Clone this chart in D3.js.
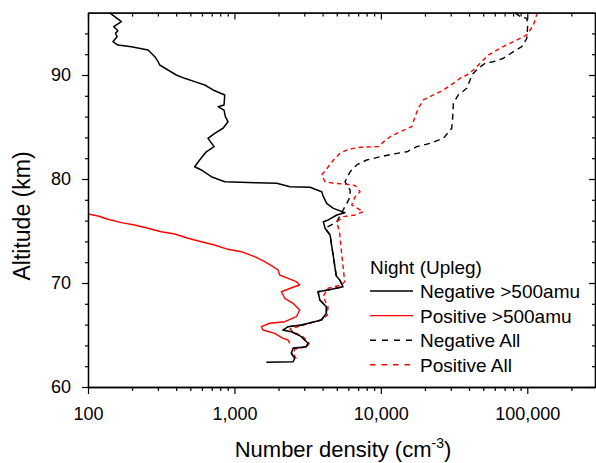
<!DOCTYPE html>
<html>
<head>
<meta charset="utf-8">
<script src="https://cdn.jsdelivr.net/npm/d3@7"></script>
<style>
  html, body { margin: 0; padding: 0; background: #fff; }
  svg { display: block; font-family: "Liberation Sans", Arial, sans-serif; }
</style>
</head>
<body>
<svg id="chart" width="596" height="463"></svg>
<script>
// Altitude profiles of charged particle number density, night upleg.
// Each entry: [altitude (km), number density (cm^-3)]
const negativeLarge = [
  [96.0, 140], [95.13, 169], [94.64, 150], [94.26, 160], [94.01, 154], [93.68, 158],
  [93.20, 148], [92.88, 160], [92.72, 198], [92.40, 257], [91.76, 286], [91.28, 301],
  [90.96, 309], [90.48, 352], [90.0, 401], [89.68, 457], [89.36, 535], [89.04, 627],
  [88.56, 714], [88.08, 859], [87.12, 849], [86.95, 773], [86.63, 849], [85.99, 867],
  [85.51, 904], [84.88, 836], [84.39, 733], [83.91, 660], [83.11, 726], [82.62, 643],
  [81.83, 579], [81.18, 535], [80.87, 594], [80.22, 695], [79.74, 859], [79.64, 1413],
  [79.59, 1945], [79.26, 2398], [79.20, 3281], [78.78, 3945], [78.30, 4047], [77.66, 4266],
  [77.18, 4742], [76.76, 5690], [76.54, 5000], [76.06, 4377], [75.89, 4047], [75.26, 4160],
  [74.62, 4498], [73.49, 4624], [72.53, 4742], [71.41, 4868], [70.67, 4966], [70.29, 5236],
  [69.64, 5521], [69.33, 4355], [69.16, 3724], [68.37, 3828], [67.72, 4246], [67.09, 4246],
  [66.44, 3926], [65.96, 2864], [65.80, 2323], [65.48, 2148], [65.32, 2449], [64.84, 2864],
  [64.20, 3184], [63.88, 3097], [63.72, 2512], [63.24, 2449], [62.76, 2582], [62.43, 2512],
  [62.38, 1652]
];

const positiveLarge = [
  [76.63, 100], [76.44, 117], [76.13, 137], [75.80, 169], [75.58, 208], [75.26, 257],
  [74.93, 316], [74.71, 391], [74.30, 482], [73.97, 594], [73.65, 733], [73.24, 904],
  [73.01, 1114], [72.53, 1376], [72.05, 1611], [71.57, 1836], [71.25, 1986], [70.77, 2037],
  [70.45, 2323], [70.13, 2649], [69.81, 2793], [69.59, 2512], [69.16, 2091], [68.53, 2208],
  [68.05, 2512], [67.40, 2793], [66.76, 2649], [66.28, 2208], [66.13, 1742], [65.80, 1528],
  [65.48, 1567], [65.16, 1884], [64.68, 2148], [64.52, 2323], [64.20, 2388]
];

const negativeAll = [
  [96.0, 82600], [95.61, 89330], [95.45, 99300], [94.81, 100700], [93.53, 99300],
  [92.72, 91650], [92.24, 80350], [91.61, 68710], [91.28, 58610], [91.13, 51520],
  [90.64, 46350], [90.0, 41780], [89.52, 40640], [88.72, 38640], [88.08, 33810],
  [87.28, 31260], [85.99, 30970], [84.88, 30480], [83.91, 26730], [83.43, 21680],
  [83.11, 17580], [82.62, 15030], [82.40, 12170], [82.14, 9886], [81.83, 8017],
  [81.35, 6839], [80.70, 6166], [79.74, 5690], [78.94, 6166], [78.30, 6166],
  [77.66, 5848], [76.83, 5433], [75.87, 5000], [75.26, 4160], [74.62, 4498],
  [73.49, 4624], [72.53, 4742], [71.41, 4868], [70.67, 4966], [70.29, 5236],
  [69.64, 5521], [69.33, 4355], [69.16, 3724], [68.37, 3828], [67.72, 4246],
  [67.09, 4246], [66.44, 3926], [65.96, 2864], [65.80, 2323], [65.48, 2148],
  [65.32, 2449], [64.84, 2864], [64.20, 3184], [63.88, 3097], [63.72, 2512],
  [63.24, 2449], [62.76, 2582], [62.43, 2512]
];

const positiveAll = [
  [96.0, 117200], [94.81, 110200], [93.85, 99300], [93.20, 80350], [92.57, 65160],
  [91.92, 54200], [91.13, 47640], [90.48, 42850], [90.0, 38640], [89.68, 34750],
  [89.20, 31260], [88.56, 26730], [88.08, 22860], [87.60, 19500], [86.80, 18030],
  [85.99, 17130], [85.03, 16260], [84.55, 13520], [84.07, 11560], [83.43, 10140],
  [83.11, 9615], [83.05, 7210], [82.86, 6000], [82.47, 5260], [81.83, 4742],
  [81.18, 4377], [80.38, 3945], [79.74, 4160], [79.59, 4742], [79.52, 5546],
  [79.38, 6668], [78.78, 7210], [78.30, 6668], [77.50, 6324], [76.86, 7590],
  [76.54, 6668], [76.38, 5546], [75.89, 5000], [74.78, 5236], [73.17, 5370],
  [71.57, 5521], [70.13, 5663], [69.81, 5370], [69.49, 4355], [68.68, 4027],
  [67.72, 4355], [66.92, 4315], [66.44, 3926], [65.96, 2950], [65.58, 2398],
  [65.32, 2512], [64.84, 2943], [64.20, 3234], [63.88, 3133], [63.65, 2594],
  [63.24, 2512], [62.76, 2636], [62.50, 2553]
];

const xMajorTicks = [100, 1000, 10000, 100000];
const yMajorTicks = [60, 70, 80, 90];
const xDomain = [100, 290000];
const yDomain = [60, 96];

const seriesNames = ["Negative >500amu", "Positive >500amu", "Negative All", "Positive All"];
const legendTitle = "Night (Upleg)";

// ---- layout ----
const margin = { left: 88, right: 595, top: 12.6, bottom: 387 };
const svg = d3.select("#chart");

const x = d3.scaleLog().domain(xDomain).range([margin.left, margin.right]);
const y = d3.scaleLinear().domain(yDomain).range([margin.bottom, margin.top]);

// minor ticks: 2..9 in each decade, and every 2 km in altitude
const xMinorTicks = [];
for (let d = 100; d <= 100000; d *= 10) {
  for (let m = 2; m <= 9; m++) {
    const v = d * m;
    if (v <= xDomain[1]) xMinorTicks.push(v);
  }
}
const yMinorTicks = d3.range(62, 96, 2).filter(v => v % 10 !== 0);

// ---- series ----
svg.append("clipPath").attr("id", "plotClip")
  .append("rect")
  .attr("x", margin.left).attr("y", margin.top)
  .attr("width", margin.right - margin.left)
  .attr("height", margin.bottom - margin.top);

const line = d3.line()
  .x(d => x(d[1]))
  .y(d => y(d[0]));

const series = [
  { data: negativeAll, color: "#000", dash: "6,4.5", width: 1.4 },
  { data: positiveAll, color: "#ff0000", dash: "4.5,3.5", width: 1.4 },
  { data: positiveLarge, color: "#ff0000", dash: null, width: 1.4 },
  { data: negativeLarge, color: "#000", dash: null, width: 1.5 }
];

const plot = svg.append("g").attr("clip-path", "url(#plotClip)");
series.forEach(s => {
  plot.append("path")
    .datum(s.data)
    .attr("d", line)
    .attr("fill", "none")
    .attr("stroke", s.color)
    .attr("stroke-width", s.width)
    .attr("stroke-linejoin", "round")
    .attr("stroke-dasharray", s.dash);
});

// ---- axes ----
const tickFont = "18px";
const fmt = d3.format(",");

function styleAxis(g) {
  g.select(".domain").attr("stroke", "#000").attr("stroke-width", 1.3);
  g.selectAll(".tick line").attr("stroke", "#000").attr("stroke-width", 1.2);
  g.selectAll(".tick text").attr("fill", "#000").style("font-size", tickFont)
    .style("font-family", "'Liberation Sans', Arial, sans-serif");
}

// bottom
svg.append("g")
  .attr("transform", `translate(0,${margin.bottom})`)
  .call(d3.axisBottom(x).tickValues(xMajorTicks).tickFormat(fmt).tickSize(7).tickPadding(13).tickSizeOuter(0))
  .call(styleAxis);
svg.append("g")
  .attr("transform", `translate(0,${margin.bottom})`)
  .call(d3.axisBottom(x).tickValues(xMinorTicks).tickFormat("").tickSize(4).tickSizeOuter(0))
  .call(styleAxis);

// top (ticks point inward)
svg.append("g")
  .attr("transform", `translate(0,${margin.top})`)
  .call(d3.axisTop(x).tickValues(xMajorTicks).tickFormat("").tickSize(-7).tickSizeOuter(0))
  .call(styleAxis);
svg.append("g")
  .attr("transform", `translate(0,${margin.top})`)
  .call(d3.axisTop(x).tickValues(xMinorTicks).tickFormat("").tickSize(-4).tickSizeOuter(0))
  .call(styleAxis);

// left
svg.append("g")
  .attr("transform", `translate(${margin.left},0)`)
  .call(d3.axisLeft(y).tickValues(yMajorTicks).tickSize(6).tickPadding(11).tickSizeOuter(0))
  .call(styleAxis);
svg.append("g")
  .attr("transform", `translate(${margin.left},0)`)
  .call(d3.axisLeft(y).tickValues(yMinorTicks).tickFormat("").tickSize(3).tickSizeOuter(0))
  .call(styleAxis);

// right (ticks point inward)
svg.append("g")
  .attr("transform", `translate(${margin.right},0)`)
  .call(d3.axisRight(y).tickValues(yMajorTicks).tickFormat("").tickSize(-6).tickSizeOuter(0))
  .call(styleAxis);
svg.append("g")
  .attr("transform", `translate(${margin.right},0)`)
  .call(d3.axisRight(y).tickValues(yMinorTicks).tickFormat("").tickSize(-3).tickSizeOuter(0))
  .call(styleAxis);

// ---- axis titles ----
const xTitle = svg.append("text")
  .attr("x", 343).attr("y", 457)
  .attr("text-anchor", "middle")
  .style("font-size", "22px")
  .attr("fill", "#000");
xTitle.append("tspan").text("Number density (cm");
xTitle.append("tspan").attr("dy", -9).style("font-size", "14px").text("-3");
xTitle.append("tspan").attr("dy", 9).text(")");

svg.append("text")
  .attr("transform", "translate(30,216) rotate(-90)")
  .attr("text-anchor", "middle")
  .style("font-size", "23px")
  .attr("fill", "#000")
  .text("Altitude (km)");

// ---- legend ----
const legend = svg.append("g").style("font-size", "19px");
legend.append("text")
  .attr("x", 370).attr("y", 273.5)
  .attr("fill", "#000")
  .text(legendTitle);

const legendStyles = [
  { color: "#000", dash: null },
  { color: "#ff0000", dash: null },
  { color: "#000", dash: "6,6" },
  { color: "#ff0000", dash: "5.5,6" }
];
seriesNames.forEach((name, i) => {
  const yl = 291 + i * 24.6;
  legend.append("line")
    .attr("x1", 370).attr("x2", 413)
    .attr("y1", yl).attr("y2", yl)
    .attr("stroke", legendStyles[i].color)
    .attr("stroke-width", 1.4)
    .attr("stroke-dasharray", legendStyles[i].dash);
  legend.append("text")
    .attr("x", 420).attr("y", yl + 7)
    .attr("fill", "#000")
    .text(name);
});
</script>
</body>
</html>
